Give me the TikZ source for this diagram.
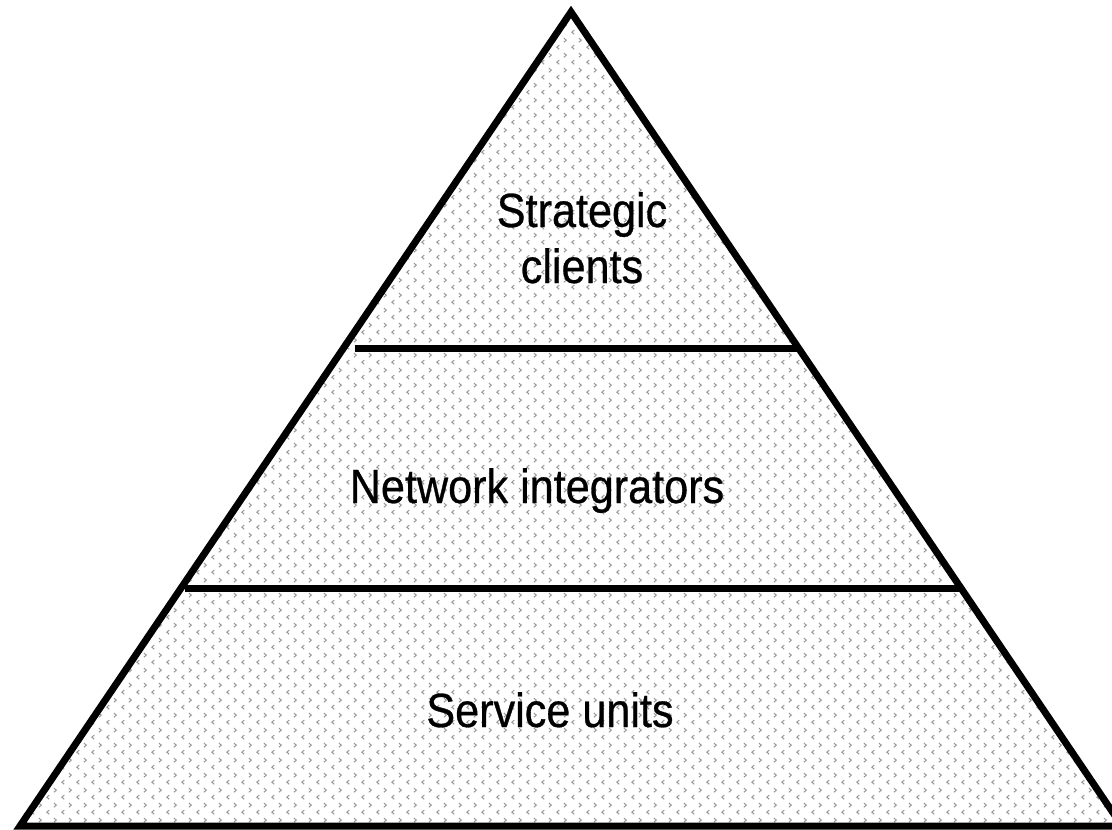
\documentclass[tikz,border=0pt]{standalone}
\usepackage{fontspec}
\usetikzlibrary{patterns}
\newfontfamily\layerfont[FakeStretch=0.9, FakeBold=0.6]{Liberation Sans}

% small grey chevrons, as in the fill of the pyramid
\pgfdeclarepatternformonly{chevrons}{\pgfqpoint{0pt}{0pt}}{\pgfqpoint{15pt}{15pt}}{\pgfqpoint{15pt}{15pt}}{
  \pgfsetlinewidth{1.1pt}
  \pgfpathmoveto{\pgfqpoint{4.5pt}{0.8pt}}
  \pgfpathlineto{\pgfqpoint{2pt}{3pt}}
  \pgfpathlineto{\pgfqpoint{4.5pt}{5.2pt}}
  \pgfpathmoveto{\pgfqpoint{9.5pt}{8.3pt}}
  \pgfpathlineto{\pgfqpoint{12pt}{10.5pt}}
  \pgfpathlineto{\pgfqpoint{9.5pt}{12.7pt}}
  \pgfusepath{stroke}
}

\tikzset{
  edge/.style={line width=7pt, line join=miter, miter limit=20},
  layer/.style={font=\layerfont\fontsize{48}{56}\selectfont, align=center, anchor=base, inner sep=0pt}
}

\begin{document}
\begin{tikzpicture}[x=1pt, y=-1pt]
            \useasboundingbox (0, 0) rectangle (1112, 830);
            %\draw[lightgray] (0, 0) grid[step=100] (1112, 830);
            \coordinate (apex) at (571, 12);
            \coordinate (baseL) at (20, 826);
            \coordinate (baseR) at (1122, 826);
            \coordinate (topL) at (355, 348);
            \coordinate (topR) at (799, 348);
            \coordinate (midL) at (185, 588);
            \coordinate (midR) at (962, 588);
            \fill[pattern=chevrons, pattern color=black!40] (apex) -- (baseR) -- (baseL) -- cycle;
            \draw[edge] (apex) -- (baseR) -- (baseL) -- cycle;
            \draw[edge] (topL) -- (topR);
            \draw[edge] (midL) -- (midR);
            \node[layer] (strategic) at (582, 283) {Strategic\\clients};
            \node[layer] (network) at (537, 503) {Network integrators};
            \node[layer] (service) at (550, 727) {Service units};
        \end{tikzpicture}
\end{document}
